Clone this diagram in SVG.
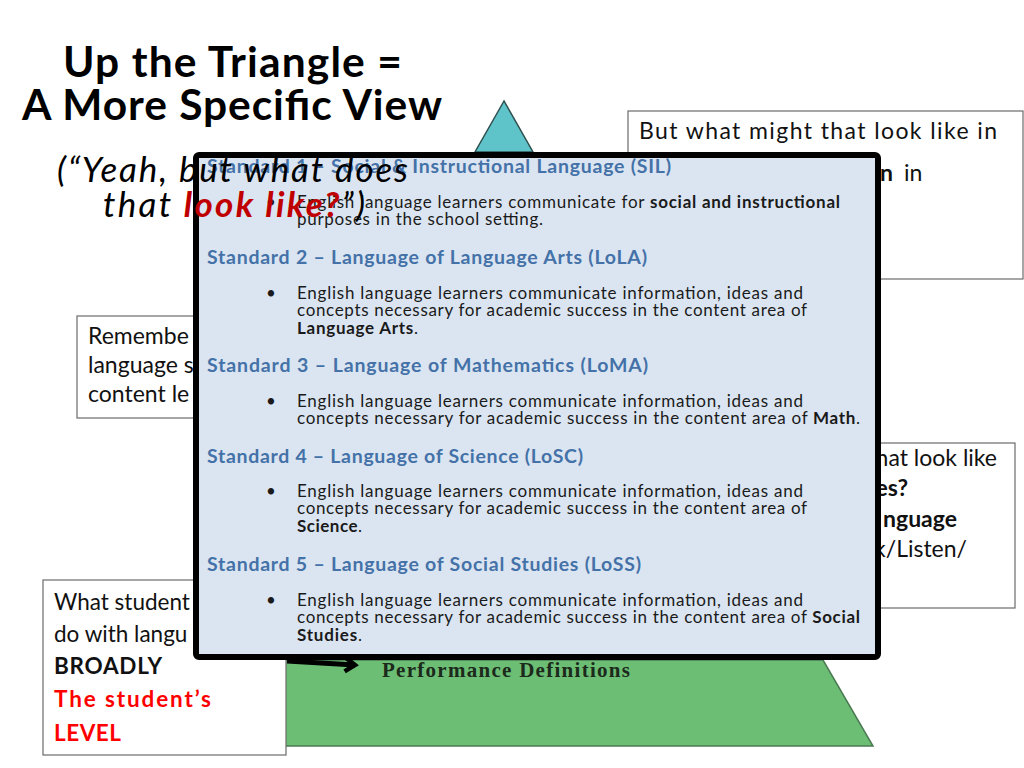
<svg xmlns="http://www.w3.org/2000/svg" width="1024" height="768" viewBox="0 0 1024 768">
<style>
.sans{font-family:Lato,"Open Sans","Liberation Sans",sans-serif}
.box{fill:#fff;stroke:#6b6b6b;stroke-width:1.2}
.t24{font-size:23px;fill:#111}
.t22{font-size:22.5px;fill:#111}
.b{font-weight:bold}
.red{fill:#ff0000}
.h{font-size:19.5px;font-weight:bold;fill:#4472a8}
.p{font-size:17px;fill:#1a1a1a}
</style>
<defs>
<marker id="chev" viewBox="0 0 20 20" refX="15" refY="10" markerWidth="20" markerHeight="20" markerUnits="userSpaceOnUse" orient="auto">
<path d="M5,3 L15,10 L5,17" fill="none" stroke="#000" stroke-width="4.5" stroke-linejoin="miter"/>
</marker>
</defs>
<rect width="1024" height="768" fill="#fff"/>

<g id="title" class="sans">
<text x="63" y="77" font-size="42.5" font-weight="bold" fill="#000" textLength="339">Up the Triangle =</text>
<text x="22" y="120" font-size="42.5" font-weight="bold" fill="#000" textLength="420">A More Specific View</text>
</g>

<g id="triangle">
<polygon points="504,101 475,152 533,152" fill="#5fc3ca" stroke="#2f4f4f" stroke-width="1.5"/>
<polygon points="186,660 823,660 873,746 137,746" fill="#6cbe74" stroke="#4a7a52" stroke-width="1.5"/>
<text x="382" y="677" font-family="'Liberation Serif',serif" font-size="21" font-weight="bold" fill="#1c2a1c" textLength="248">Performance Definitions</text>
</g>

<g id="box-top-right" class="sans">
<rect class="box" x="628" y="111" width="395" height="168"/>
<text class="t24" x="639" y="139" textLength="358">But what might that look like in</text>
<text class="t24" x="880" y="181"><tspan class="b">n</tspan><tspan x="904">in</tspan></text>
</g>

<g id="box-remember" class="sans">
<rect class="box" x="77" y="316" width="160" height="102"/>
<text class="t24" x="88" y="344">Remembe</text>
<text class="t24" x="88" y="373">language s</text>
<text class="t24" x="88" y="402">content le</text>
</g>

<g id="box-right-mid" class="sans">
<rect class="box" x="840" y="443" width="175" height="165"/>
<text class="t24" x="997" y="466" text-anchor="end">hat look like</text>
<text class="t24 b" x="908" y="496" text-anchor="end">es?</text>
<text class="t24 b" x="957" y="527" text-anchor="end">nguage</text>
<text class="t24" x="967" y="557" text-anchor="end">k/Listen/</text>
</g>

<g id="box-bottom-left" class="sans">
<rect class="box" x="43" y="580" width="243" height="175"/>
<text class="t22" x="54" y="610">What student</text>
<text class="t22" x="54" y="642">do with langu</text>
<text class="t22 b" x="54" y="674" textLength="108">BROADLY</text>
<text class="t22 b red" x="54" y="707" textLength="157">The student’s</text>
<text class="t22 b red" x="54" y="741" textLength="67">LEVEL</text>
</g>

<g id="connectors">
<path d="M287,661 L355,665" fill="none" stroke="#000" stroke-width="5" marker-end="url(#chev)"/>
</g>

<g id="standards-popup" class="sans">
<rect x="196" y="155" width="682" height="502" rx="3" fill="#dbe5f1" stroke="#000" stroke-width="6"/>
<text class="h" x="207" y="173" textLength="464">Standard 1 – Social &amp; Instructional Language (SIL)</text>
<text class="p" x="266" y="208">•</text>
<text class="p" x="297" y="208" textLength="543">English language learners communicate for <tspan class="b">social and instructional</tspan></text>
<text class="p" x="297" y="225" textLength="246">purposes in the school setting.</text>

<text class="h" x="207" y="264" textLength="440">Standard 2 – Language of Language Arts (LoLA)</text>
<text class="p" x="266" y="299">•</text>
<text class="p" x="297" y="299" textLength="506">English language learners communicate information, ideas and</text>
<text class="p" x="297" y="316" textLength="510">concepts necessary for academic success in the content area of</text>
<text class="p" x="297" y="334" textLength="121"><tspan class="b">Language Arts</tspan>.</text>

<text class="h" x="207" y="372" textLength="441">Standard 3 – Language of Mathematics (LoMA)</text>
<text class="p" x="266" y="407">•</text>
<text class="p" x="297" y="407" textLength="506">English language learners communicate information, ideas and</text>
<text class="p" x="297" y="424" textLength="563">concepts necessary for academic success in the content area of <tspan class="b">Math</tspan>.</text>

<text class="h" x="207" y="463" textLength="376">Standard 4 – Language of Science (LoSC)</text>
<text class="p" x="266" y="497">•</text>
<text class="p" x="297" y="497" textLength="506">English language learners communicate information, ideas and</text>
<text class="p" x="297" y="514" textLength="510">concepts necessary for academic success in the content area of</text>
<text class="p" x="297" y="532" textLength="65"><tspan class="b">Science</tspan>.</text>

<text class="h" x="207" y="571" textLength="434">Standard 5 – Language of Social Studies (LoSS)</text>
<text class="p" x="266" y="606">•</text>
<text class="p" x="297" y="606" textLength="506">English language learners communicate information, ideas and</text>
<text class="p" x="297" y="623" textLength="563">concepts necessary for academic success in the content area of <tspan class="b">Social</tspan></text>
<text class="p" x="297" y="641" textLength="65"><tspan class="b">Studies</tspan>.</text>
</g>

<g id="subtitle" class="sans" font-style="italic">
<text x="57" y="182" font-size="35" fill="#000" textLength="351">(“Yeah, but what does</text>
<text x="103" y="217" font-size="35" fill="#000" textLength="262">that <tspan font-weight="bold" fill="#c00000">look like?</tspan>”)</text>
</g>
</svg>
